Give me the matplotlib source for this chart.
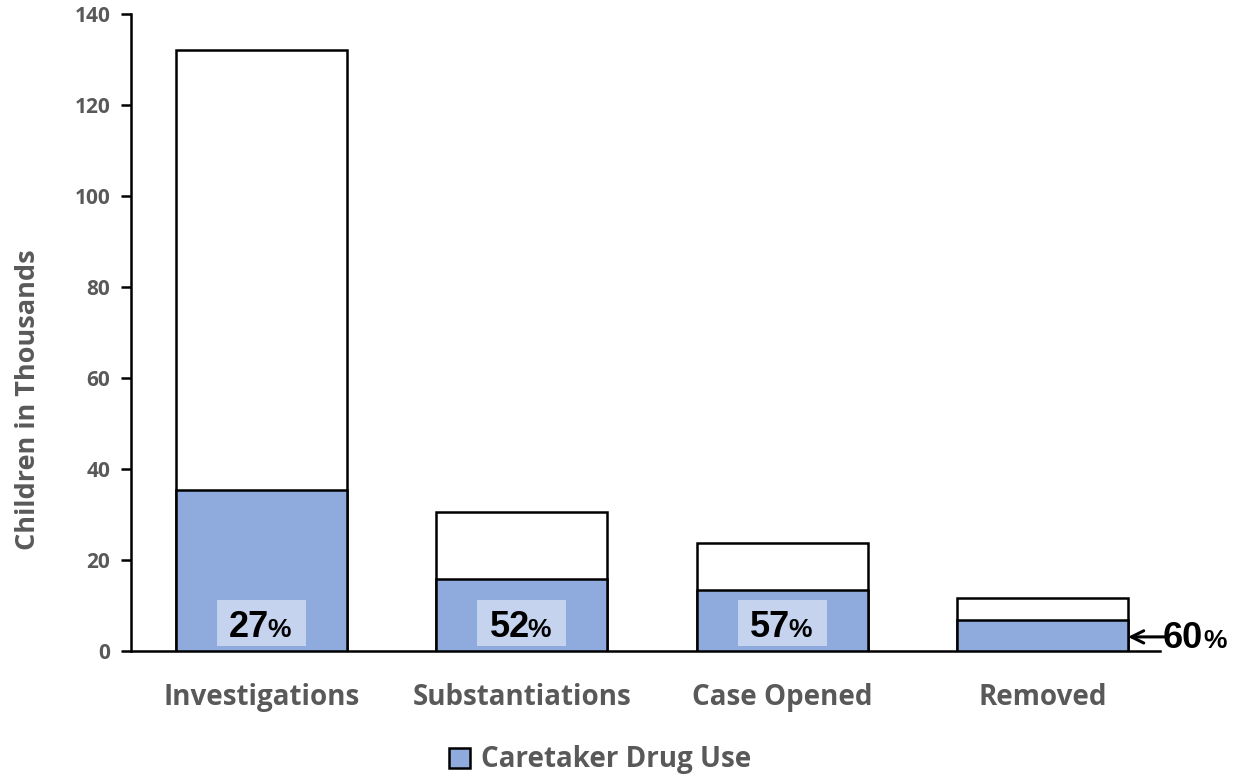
import numpy as np
import matplotlib.pyplot as plt
from matplotlib.patches import Rectangle
import matplotlib.transforms as mtransforms

# =========================
# DATA
# =========================
categories = ["Investigations", "Substantiations", "Case Opened", "Removed"]
totals = [132.0, 30.5, 23.7, 11.6]
drug_use = [35.3, 15.8, 13.4, 6.9]
pct_labels = ["27", "52", "57", "60"]

BLUE = "#8FAADC"
LIGHT = "#C5D3EE"
GRAY = "#595959"
FONT = "Open Sans"
NUMFONT = "Liberation Sans"

fig = plt.figure(figsize=(12.33, 7.76), dpi=100)
ax = fig.add_axes([131 / 1233, 1 - 651 / 776, (1160 - 131) / 1233, (651 - 14) / 776])

x = np.arange(len(categories))
width = 0.655

ax.bar(x, totals, width=width, color="white", edgecolor="black", linewidth=1.8, zorder=2)
ax.bar(x, drug_use, width=width, color=BLUE, edgecolor="black", linewidth=1.8, zorder=3,
       label="Caretaker Drug Use")


def shifted(px):
    return mtransforms.offset_copy(ax.transData, fig=fig, x=px * 0.72, y=0, units="points")


# percentage labels inside first three bars
for i in range(3):
    ax.add_patch(Rectangle((x[i] - 0.17, 1.1), 0.34, 10.1, facecolor=LIGHT,
                           edgecolor="none", zorder=4))
    ax.text(x[i], 3.1, pct_labels[i], ha="right", va="baseline", fontsize=26,
            fontweight="bold", family=NUMFONT, zorder=5, transform=shifted(8))
    ax.text(x[i], 3.1, "%", ha="left", va="baseline", fontsize=19,
            fontweight="bold", family=NUMFONT, zorder=5, transform=shifted(6))

# arrow label for last bar
edge = x[3] + width / 2
ax.annotate("", xy=(edge, 3.1), xytext=(edge + 0.14, 3.1),
            arrowprops=dict(arrowstyle="->", color="black", lw=2.2, mutation_scale=22,
                            shrinkA=0, shrinkB=0),
            annotation_clip=False, zorder=6)
ax.text(edge, 0.66, pct_labels[3], ha="left", va="baseline", fontsize=26,
        fontweight="bold", family=NUMFONT, clip_on=False, transform=shifted(35))
ax.text(edge, 0.66, "%", ha="left", va="baseline", fontsize=19,
        fontweight="bold", family=NUMFONT, clip_on=False, transform=shifted(75))

# axes styling
ax.set_xlim(-0.5, 3.45)
ax.set_ylim(0, 140)
ax.set_yticks(range(0, 141, 20))
ax.set_xticks(x)
ax.set_xticklabels(categories, fontsize=20, fontweight="bold", color=GRAY, family=FONT)
ax.tick_params(axis="x", length=0, pad=23)
ax.tick_params(axis="y", direction="out", length=7, width=1.8, labelsize=15,
               labelcolor=GRAY, pad=8)
for lab in ax.get_yticklabels():
    lab.set_fontweight("bold")
    lab.set_family(FONT)
for s in ["top", "right"]:
    ax.spines[s].set_visible(False)
ax.spines["left"].set_linewidth(1.8)
ax.spines["bottom"].set_linewidth(1.8)

ax.set_ylabel("Children in Thousands", fontsize=19.5, fontweight="bold", color=GRAY,
              family=FONT)
ax.yaxis.set_label_coords(-0.087, 0.394)

leg = ax.legend(loc="center", bbox_to_anchor=(0.456, -0.171), frameon=False,
                prop={"family": FONT, "weight": "bold", "size": 20},
                handlelength=0.75, handleheight=0.75, handletextpad=0.4)
for t in leg.get_texts():
    t.set_color(GRAY)

fig.savefig("out.png", dpi=100)
